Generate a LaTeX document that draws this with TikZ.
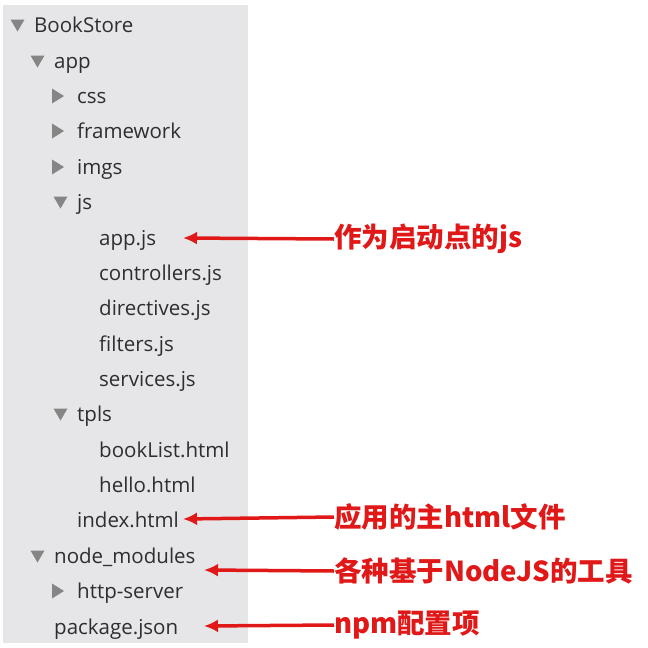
\documentclass[tikz,border=0pt]{standalone}
\usepackage{fontspec}
\setmainfont{Open Sans}
\newfontfamily\cjk{Noto Sans CJK SC}
\usetikzlibrary{arrows.meta}
\definecolor{panelgray}{HTML}{E6E6E8}
\definecolor{filetext}{HTML}{2E2E30}
\definecolor{trigray}{HTML}{858585}
\definecolor{notered}{HTML}{E01818}

\begin{document}
\begin{tikzpicture}[x=1pt,y=-1pt]
\tikzstyle{file} = [anchor=base west,inner sep=0pt,text=filetext,font=\fontsize{20.5}{24}\selectfont]
\tikzstyle{note} = [anchor=west,inner sep=0pt,text=notered,font=\cjk\bfseries\fontsize{27.5}{32}\selectfont]
\tikzstyle{pointer} = [line width=3.5pt,draw=notered,-{Latex[length=14pt,width=13pt]}]
\tikzstyle{tri} = [fill=trigray]
\useasboundingbox (0,0) rectangle (648,648);
\fill[panelgray] (3,5) rectangle (248,643);

% file tree
\path (34,32) node [file] (bookstore) {BookStore}
		(54,68) node [file] (app) {app}
		(77,103) node [file] (css) {css}
		(77,138) node [file] (framework) {framework}
		(77,174) node [file] (imgs) {imgs}
		(77,209) node [file] (js) {js}
		(99,245) node [file] (appjs) {app.js}
		(99,280) node [file] (controllers) {controllers.js}
		(99,315) node [file] (directives) {directives.js}
		(99,351) node [file] (filters) {filters.js}
		(99,386) node [file] (services) {services.js}
		(77,421) node [file] (tpls) {tpls}
		(99,457) node [file] (booklist) {bookList.html}
		(99,492) node [file] (hello) {hello.html}
		(77,527) node [file] (index) {index.html}
		(54,563) node [file] (nodemodules) {node\_modules}
		(77,598) node [file] (httpserver) {http-server}
		(54,634) node [file] (package) {package.json};

% open / closed folders
\fill[tri] (10.5,19.5) -- ++(14,0) -- ++(-7,12) -- cycle;
\fill[tri] (30.5,55.5) -- ++(14,0) -- ++(-7,12) -- cycle;
\fill[tri] (53.5,196.5) -- ++(14,0) -- ++(-7,12) -- cycle;
\fill[tri] (53.5,408.5) -- ++(14,0) -- ++(-7,12) -- cycle;
\fill[tri] (30.5,550.5) -- ++(14,0) -- ++(-7,12) -- cycle;
\fill[tri] (52,88.5) -- ++(0,15) -- ++(12,-7.5) -- cycle;
\fill[tri] (52,123.5) -- ++(0,15) -- ++(12,-7.5) -- cycle;
\fill[tri] (52,159.5) -- ++(0,15) -- ++(12,-7.5) -- cycle;
\fill[tri] (52,583.5) -- ++(0,15) -- ++(12,-7.5) -- cycle;

% notes
\path (334,239) node [note] (noteapp) {作为启动点的js}
		(334,517) node [note] (noteindex) {应用的主html文件}
		(334,571) node [note] (notemodules) {各种基于NodeJS的工具}
		(334,625) node [note] (notepackage) {npm配置项};
\coordinate (tipapp) at (183,238);
\coordinate (tipindex) at (183,519);
\coordinate (tipmodules) at (204,570);
\coordinate (tippackage) at (204,626);

\draw[pointer] (node cs:name=noteapp,anchor=west) -- (tipapp);
\draw[pointer] (node cs:name=noteindex,anchor=west) -- (tipindex);
\draw[pointer] (node cs:name=notemodules,anchor=west) -- (tipmodules);
\draw[pointer] (node cs:name=notepackage,anchor=west) -- (tippackage);
\end{tikzpicture}
\end{document}
